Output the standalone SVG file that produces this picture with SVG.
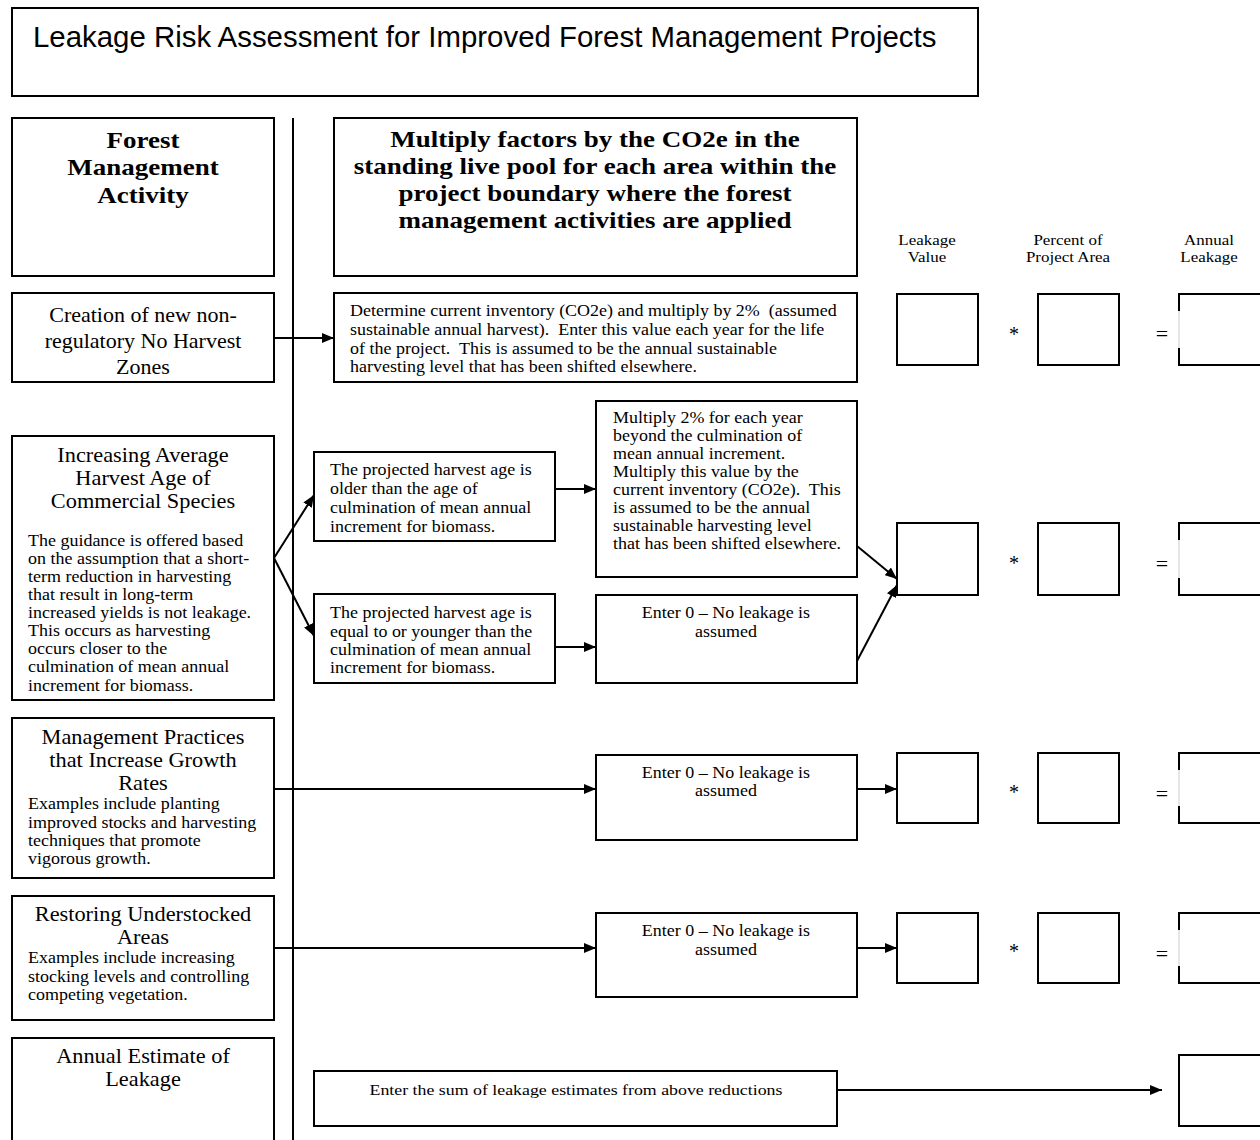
<svg xmlns="http://www.w3.org/2000/svg" width="1260" height="1140" viewBox="0 0 1260 1140">
<defs>
<marker id="ah" markerUnits="userSpaceOnUse" markerWidth="12" markerHeight="10" refX="12" refY="5" orient="auto"><path d="M0,0 L12,5 L0,10 z" fill="#000"/></marker>
<style>
.box{fill:#fff;stroke:#000;stroke-width:2}
.t{font-family:"Liberation Serif","Times New Roman",serif;fill:#000;white-space:pre}
.b{font-weight:bold;font-size:24px}
.h{font-size:20.5px}
.s{font-size:16.5px}
.m{text-anchor:middle}
.c{stroke:#000;stroke-width:2;fill:none;marker-end:url(#ah)}
.gap{stroke:#fff;stroke-width:3}
.gl{stroke:#ccc;stroke-width:1}
</style>
</defs>
<rect width="1260" height="1140" fill="#fff"/>

<g id="title">
<rect class="box" x="12" y="8" width="966" height="88"/>
<text x="33" y="47" font-family="Liberation Sans, Arial, sans-serif" font-size="29.4">Leakage Risk Assessment for Improved Forest Management Projects</text>
</g>

<line id="divider" x1="293" y1="118" x2="293" y2="1140" stroke="#000" stroke-width="2"/>

<g id="hdr-activity">
<rect class="box" x="12" y="118" width="262" height="158"/>
<g transform="matrix(1.125 0 0 1 -17.875 0)"><text class="t b m"><tspan x="143" y="148">Forest</tspan><tspan x="143" y="175">Management</tspan><tspan x="143" y="203">Activity</tspan></text></g>
</g>

<g id="hdr-multiply">
<rect class="box" x="334" y="118" width="523" height="158"/>
<g transform="matrix(1.125 0 0 1 -74.375 0)"><text class="t b m"><tspan x="595" y="147">Multiply factors by the CO2e in the</tspan><tspan x="595" y="174">standing live pool for each area within the</tspan><tspan x="595" y="201">project boundary where the forest</tspan><tspan x="595" y="228">management activities are applied</tspan></text></g>
</g>

<g id="hdr-cols" class="t" font-size="15">
<g transform="matrix(1.13 0 0 1 -120.51 0)"><text class="m" x="927" y="245">Leakage</text><text class="m" x="927" y="262">Value</text></g>
<g transform="matrix(1.13 0 0 1 -138.84 0)"><text class="m" x="1068" y="245">Percent of</text><text class="m" x="1068" y="262">Project Area</text></g>
<g transform="matrix(1.13 0 0 1 -157.17 0)"><text class="m" x="1209" y="245">Annual</text><text class="m" x="1209" y="262">Leakage</text></g>
</g>

<g id="act-noharvest">
<rect class="box" x="12" y="293" width="262" height="89"/>
<text class="t m" font-size="22"><tspan x="143" y="322">Creation of new non-</tspan><tspan x="143" y="348">regulatory No Harvest</tspan><tspan x="143" y="374">Zones</tspan></text>
</g>

<g id="calc-noharvest">
<rect class="box" x="334" y="293" width="523" height="89"/>
<g transform="matrix(1.09 0 0 1 -31.5 0)"><text class="t s" xml:space="preserve"><tspan x="350" y="316">Determine current inventory (CO2e) and multiply by 2%  (assumed</tspan><tspan x="350" y="335">sustainable annual harvest).  Enter this value each year for the life</tspan><tspan x="350" y="354">of the project.  This is assumed to be the annual sustainable</tspan><tspan x="350" y="372">harvesting level that has been shifted elsewhere.</tspan></text></g>
</g>

<g id="act-harvestage">
<rect class="box" x="12" y="436" width="262" height="264"/>
<g transform="matrix(1.09 0 0 1 -12.87 0)"><text class="t h m"><tspan x="143" y="462">Increasing Average</tspan><tspan x="143" y="485">Harvest Age of</tspan><tspan x="143" y="508">Commercial Species</tspan></text></g>
<g transform="matrix(1.09 0 0 1 -2.52 0)"><text class="t s"><tspan x="28" y="546">The guidance is offered based</tspan><tspan x="28" y="564">on the assumption that a short-</tspan><tspan x="28" y="582">term reduction in harvesting</tspan><tspan x="28" y="600">that result in long-term</tspan><tspan x="28" y="618">increased yields is not leakage.</tspan><tspan x="28" y="636">This occurs as harvesting</tspan><tspan x="28" y="654">occurs closer to the</tspan><tspan x="28" y="672">culmination of mean annual</tspan><tspan x="28" y="691">increment for biomass.</tspan></text></g>
</g>

<g id="cond-older">
<rect class="box" x="314" y="452" width="241" height="89"/>
<g transform="matrix(1.09 0 0 1 -29.7 0)"><text class="t s"><tspan x="330" y="475">The projected harvest age is</tspan><tspan x="330" y="494">older than the age of</tspan><tspan x="330" y="513">culmination of mean annual</tspan><tspan x="330" y="532">increment for biomass.</tspan></text></g>
</g>

<g id="cond-younger">
<rect class="box" x="314" y="594" width="241" height="89"/>
<g transform="matrix(1.09 0 0 1 -29.7 0)"><text class="t s"><tspan x="330" y="618">The projected harvest age is</tspan><tspan x="330" y="637">equal to or younger than the</tspan><tspan x="330" y="655">culmination of mean annual</tspan><tspan x="330" y="673">increment for biomass.</tspan></text></g>
</g>

<g id="calc-older">
<rect class="box" x="596" y="401" width="261" height="176"/>
<g transform="matrix(1.09 0 0 1 -55.17 0)"><text class="t s" xml:space="preserve"><tspan x="613" y="423">Multiply 2% for each year</tspan><tspan x="613" y="441">beyond the culmination of</tspan><tspan x="613" y="459">mean annual increment.</tspan><tspan x="613" y="477">Multiply this value by the</tspan><tspan x="613" y="495">current inventory (CO2e).  This</tspan><tspan x="613" y="513">is assumed to be the annual</tspan><tspan x="613" y="531">sustainable harvesting level</tspan><tspan x="613" y="549">that has been shifted elsewhere.</tspan></text></g>
</g>

<g id="calc-younger">
<rect class="box" x="596" y="595" width="261" height="88"/>
<g transform="matrix(1.09 0 0 1 -65.34 0)"><text class="t s m"><tspan x="726" y="618">Enter 0 – No leakage is</tspan><tspan x="726" y="637">assumed</tspan></text></g>
</g>

<g id="act-growth">
<rect class="box" x="12" y="718" width="262" height="160"/>
<g transform="matrix(1.09 0 0 1 -12.87 0)"><text class="t h m"><tspan x="143" y="744">Management Practices</tspan><tspan x="143" y="767">that Increase Growth</tspan><tspan x="143" y="790">Rates</tspan></text></g>
<g transform="matrix(1.09 0 0 1 -2.52 0)"><text class="t s"><tspan x="28" y="809">Examples include planting</tspan><tspan x="28" y="828">improved stocks and harvesting</tspan><tspan x="28" y="846">techniques that promote</tspan><tspan x="28" y="864">vigorous growth.</tspan></text></g>
</g>

<g id="calc-growth">
<rect class="box" x="596" y="755" width="261" height="85"/>
<g transform="matrix(1.09 0 0 1 -65.34 0)"><text class="t s m"><tspan x="726" y="778">Enter 0 – No leakage is</tspan><tspan x="726" y="796">assumed</tspan></text></g>
</g>

<g id="act-restore">
<rect class="box" x="12" y="896" width="262" height="124"/>
<g transform="matrix(1.09 0 0 1 -12.87 0)"><text class="t h m"><tspan x="143" y="921">Restoring Understocked</tspan><tspan x="143" y="944">Areas</tspan></text></g>
<g transform="matrix(1.09 0 0 1 -2.52 0)"><text class="t s"><tspan x="28" y="963">Examples include increasing</tspan><tspan x="28" y="982">stocking levels and controlling</tspan><tspan x="28" y="1000">competing vegetation.</tspan></text></g>
</g>

<g id="calc-restore">
<rect class="box" x="596" y="913" width="261" height="84"/>
<g transform="matrix(1.09 0 0 1 -65.34 0)"><text class="t s m"><tspan x="726" y="936">Enter 0 – No leakage is</tspan><tspan x="726" y="955">assumed</tspan></text></g>
</g>

<g id="act-annual">
<rect class="box" x="12" y="1038" width="262" height="110"/>
<g transform="matrix(1.09 0 0 1 -12.87 0)"><text class="t h m"><tspan x="143" y="1063">Annual Estimate of</tspan><tspan x="143" y="1086">Leakage</tspan></text></g>
</g>

<g id="calc-sum">
<rect class="box" x="314" y="1071" width="523" height="55"/>
<g transform="matrix(1.19 0 0 1 -109.44 0)"><text class="t m" font-size="15" x="576" y="1095">Enter the sum of leakage estimates from above reductions</text></g>
</g>

<g id="row1-cells">
<rect class="box" x="897" y="294" width="81" height="71"/>
<text class="t m" font-size="20" x="1014" y="341">*</text>
<rect class="box" x="1038" y="294" width="81" height="71"/>
<text class="t m" font-size="22" x="1162" y="341">=</text>
<rect class="box" x="1179" y="294" width="82" height="71"/>
<line class="gap" x1="1179" y1="311" x2="1179" y2="348"/><line class="gl" x1="1179" y1="311" x2="1179" y2="348"/>
</g>

<g id="row2-cells">
<rect class="box" x="897" y="523" width="81" height="72"/>
<text class="t m" font-size="20" x="1014" y="570">*</text>
<rect class="box" x="1038" y="523" width="81" height="72"/>
<text class="t m" font-size="22" x="1162" y="571">=</text>
<rect class="box" x="1179" y="523" width="82" height="72"/>
<line class="gap" x1="1179" y1="540" x2="1179" y2="578"/><line class="gl" x1="1179" y1="540" x2="1179" y2="578"/>
</g>

<g id="row3-cells">
<rect class="box" x="897" y="753" width="81" height="70"/>
<text class="t m" font-size="20" x="1014" y="799">*</text>
<rect class="box" x="1038" y="753" width="81" height="70"/>
<text class="t m" font-size="22" x="1162" y="801">=</text>
<rect class="box" x="1179" y="753" width="82" height="70"/>
<line class="gap" x1="1179" y1="770" x2="1179" y2="806"/><line class="gl" x1="1179" y1="770" x2="1179" y2="806"/>
</g>

<g id="row4-cells">
<rect class="box" x="897" y="913" width="81" height="70"/>
<text class="t m" font-size="20" x="1014" y="958">*</text>
<rect class="box" x="1038" y="913" width="81" height="70"/>
<text class="t m" font-size="22" x="1162" y="961">=</text>
<rect class="box" x="1179" y="913" width="82" height="70"/>
<line class="gap" x1="1179" y1="930" x2="1179" y2="966"/><line class="gl" x1="1179" y1="930" x2="1179" y2="966"/>
</g>

<g id="total-cell">
<rect class="box" x="1179" y="1055" width="82" height="71"/>
</g>

<g id="connectors">
<line class="c" x1="274" y1="338" x2="334" y2="338"/>
<line class="c" x1="274" y1="558" x2="314" y2="495"/>
<line class="c" x1="274" y1="558" x2="314" y2="636"/>
<line class="c" x1="555" y1="489" x2="596" y2="489"/>
<line class="c" x1="555" y1="647" x2="596" y2="647"/>
<line class="c" x1="857" y1="546" x2="897" y2="579"/>
<line class="c" x1="857" y1="661" x2="897" y2="585"/>
<line class="c" x1="274" y1="789" x2="596" y2="789"/>
<line class="c" x1="857" y1="789" x2="897" y2="789"/>
<line class="c" x1="274" y1="948" x2="596" y2="948"/>
<line class="c" x1="857" y1="948" x2="897" y2="948"/>
<line class="c" x1="837" y1="1090" x2="1162" y2="1090"/>
</g>
</svg>
